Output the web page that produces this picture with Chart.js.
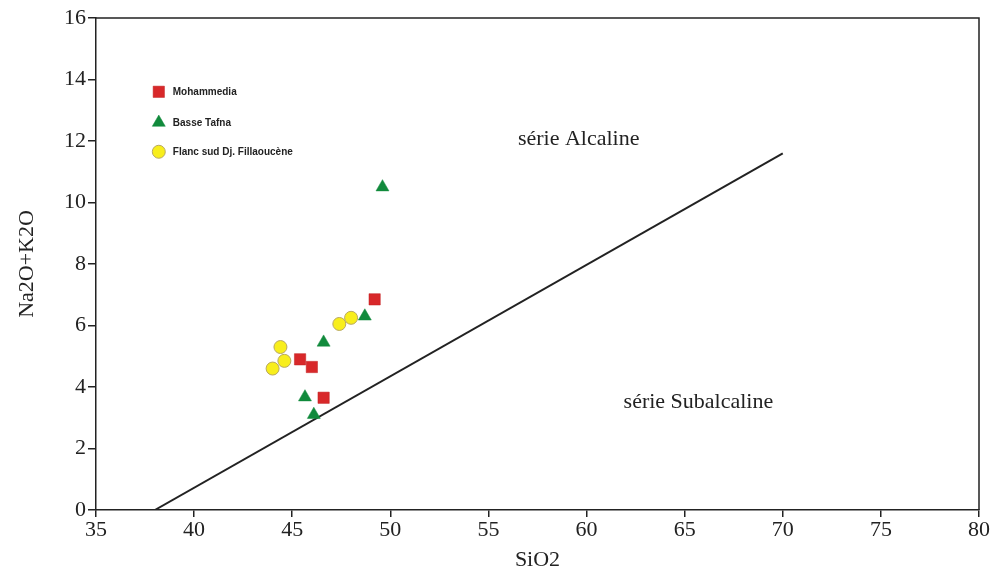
<!DOCTYPE html>
<html>
<head>
<meta charset="utf-8">
<script src="https://cdn.jsdelivr.net/npm/chart.js@4.4.1/dist/chart.umd.min.js"></script>
<style>
  html, body { margin: 0; padding: 0; background: #fff; }
  #wrap { width: 990px; height: 573px; }
</style>
</head>
<body>
<div id="wrap"><canvas id="tas"></canvas></div>
<script>
// SiO2 vs Na2O+K2O values
const mohammediaSiO2 = [45.4, 46.0, 46.6, 49.2];
const mohammediaAlk = [4.9, 4.65, 3.65, 6.85];

const tafnaSiO2 = [49.6, 48.7, 46.6, 45.65, 46.1];
const tafnaAlk = [10.5, 6.3, 5.45, 3.67, 3.1];

const flancSiO2 = [44.4, 44.6, 44.0, 47.4, 48.0];
const flancAlk = [5.3, 4.85, 4.6, 6.05, 6.25];

// alkaline / subalkaline dividing line
const dividerSiO2 = [38, 70];
const dividerAlk = [0, 11.6];

const xTicks = [35, 40, 45, 50, 55, 60, 65, 70, 75, 80];
const yTicks = [0, 2, 4, 6, 8, 10, 12, 14, 16];

const fieldLabels = ['série Alcaline', 'série Subalcaline'];
const fieldSiO2 = [59.6, 65.7];
const fieldAlk = [12.05, 3.5];

const toPoints = (xs, ys) => xs.map((x, i) => ({ x: x, y: ys[i] }));

const serif = '"Liberation Serif", "Times New Roman", serif';
const sans = '"Liberation Sans", Arial, sans-serif';

// frame, field names and the in-plot legend
const decorPlugin = {
    id: 'decor',
    afterDatasetsDraw(chart) {
        const ctx = chart.ctx;
        const area = chart.chartArea;
        const xs = chart.scales.x;
        const ys = chart.scales.y;
        ctx.save();
        ctx.strokeStyle = '#222';
        ctx.lineWidth = 1.5;
        ctx.beginPath();
        ctx.moveTo(area.left, area.top);
        ctx.lineTo(area.right, area.top);
        ctx.lineTo(area.right, area.bottom);
        ctx.stroke();

        ctx.fillStyle = '#222';
        ctx.font = '22px ' + serif;
        ctx.textAlign = 'center';
        ctx.textBaseline = 'middle';
        fieldLabels.forEach((t, i) => {
            ctx.fillText(t, xs.getPixelForValue(fieldSiO2[i]), ys.getPixelForValue(fieldAlk[i]));
        });

        // legend entries, styled from the datasets themselves
        const legendX = xs.getPixelForValue(38.2);
        const legendY = [ys.getPixelForValue(13.6), ys.getPixelForValue(12.6), ys.getPixelForValue(11.65)];
        ctx.font = 'bold 10px ' + sans;
        ctx.textAlign = 'left';
        chart.data.datasets.slice(0, 3).forEach((ds, i) => {
            ctx.fillStyle = ds.backgroundColor;
            ctx.strokeStyle = ds.borderColor;
            ctx.lineWidth = ds.borderWidth;
            Chart.helpers.drawPoint(ctx, {
                pointStyle: ds.pointStyle,
                radius: ds.pointRadius,
                borderWidth: ds.borderWidth
            }, legendX, legendY[i]);
            ctx.fillStyle = '#222';
            ctx.fillText(ds.label, legendX + 14, legendY[i] + 0.5);
        });
        ctx.restore();
    }
};

const canvas = document.getElementById('tas');
new Chart(canvas, {
    type: 'scatter',
    data: {
        datasets: [
            {
                label: 'Mohammedia',
                data: toPoints(mohammediaSiO2, mohammediaAlk),
                pointStyle: 'rect',
                pointRadius: 8,
                backgroundColor: '#d8282a',
                borderColor: '#c02020',
                borderWidth: 0.5
            },
            {
                label: 'Basse Tafna',
                data: toPoints(tafnaSiO2, tafnaAlk),
                pointStyle: 'triangle',
                pointRadius: 7.5,
                backgroundColor: '#118a3c',
                borderColor: '#118a3c',
                borderWidth: 0.5
            },
            {
                label: 'Flanc sud Dj. Fillaoucène',
                data: toPoints(flancSiO2, flancAlk),
                pointStyle: 'circle',
                pointRadius: 6.5,
                backgroundColor: '#f8ee1c',
                borderColor: '#b8a860',
                borderWidth: 1
            },
            {
                label: 'divider',
                type: 'line',
                data: toPoints(dividerSiO2, dividerAlk),
                showLine: true,
                borderColor: '#222',
                borderWidth: 2,
                pointRadius: 0,
                fill: false
            }
        ]
    },
    options: {
        responsive: true,
        maintainAspectRatio: false,
        animation: false,
        layout: { padding: { left: 14, right: 11, top: 18, bottom: 0 } },
        plugins: {
            legend: { display: false },
            tooltip: { enabled: false }
        },
        scales: {
            x: {
                type: 'linear',
                min: 35,
                max: 80,
                afterBuildTicks: (scale) => { scale.ticks = xTicks.map(v => ({ value: v })); },
                afterFit: (scale) => { scale.height = 63; },
                ticks: { color: '#222', font: { family: serif, size: 22 }, padding: 0, maxRotation: 0 },
                grid: { drawOnChartArea: false, drawTicks: true, tickLength: 7, color: '#222', lineWidth: 1.5 },
                border: { display: true, color: '#222', width: 1.5 },
                title: { display: true, text: 'SiO2', color: '#222', font: { family: serif, size: 22 }, padding: { top: 2, bottom: 0 } }
            },
            y: {
                type: 'linear',
                min: 0,
                max: 16,
                afterBuildTicks: (scale) => { scale.ticks = yTicks.map(v => ({ value: v })); },
                afterFit: (scale) => { scale.width = 82; },
                ticks: { color: '#222', font: { family: serif, size: 22 }, padding: 2 },
                grid: { drawOnChartArea: false, drawTicks: true, tickLength: 8, color: '#222', lineWidth: 1.5 },
                border: { display: true, color: '#222', width: 1.5 },
                title: { display: true, text: 'Na2O+K2O', color: '#222', font: { family: serif, size: 22 }, padding: { top: 0, bottom: 0 } }
            }
        }
    },
    plugins: [decorPlugin]
});
</script>
</body>
</html>
